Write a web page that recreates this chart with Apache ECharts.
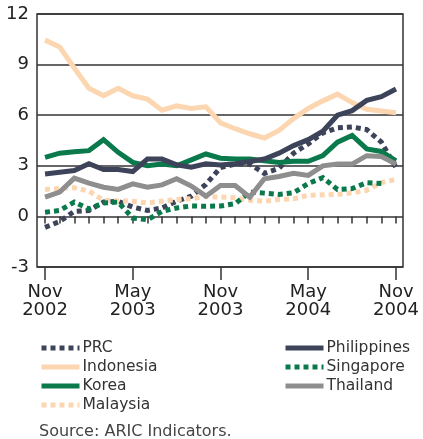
<!DOCTYPE html>
<html>
<head>
<meta charset="utf-8">
<script src="https://cdn.jsdelivr.net/npm/echarts@6/dist/echarts.min.js"></script>
<style>
  html, body { margin: 0; padding: 0; background: #fff; }
  #chart { width: 423px; height: 439px; }
</style>
</head>
<body>
<div id="chart"></div>
<script>
// months from Nov 2002 (0) to Nov 2004 (24)
const monthIdx = [0,1,2,3,4,5,6,7,8,9,10,11,12,13,14,15,16,17,18,19,20,21,22,23,24];
const labelIdx = [0, 6, 12, 18, 24];
const tickLabels = ['Nov\n2002', 'May\n2003', 'Nov\n2003', 'May\n2004', 'Nov\n2004'];

const prc = [-0.65,-0.3,0.3,0.35,0.85,0.9,0.55,0.35,0.5,0.9,1.2,1.9,2.9,3.1,3.1,2.55,2.85,3.75,4.3,4.95,5.25,5.3,5.15,4.4,2.9];
const indonesia = [10.45,10.05,8.8,7.6,7.15,7.6,7.15,6.95,6.3,6.55,6.4,6.5,5.55,5.2,4.9,4.65,5.1,5.8,6.4,6.85,7.25,6.75,6.35,6.25,6.15];
const korea = [3.5,3.75,3.83,3.9,4.55,3.8,3.2,3.0,3.1,3.0,3.35,3.7,3.45,3.4,3.4,3.3,3.2,3.27,3.27,3.6,4.4,4.8,4.0,3.85,3.3];
const malaysia = [1.6,1.65,1.7,1.5,0.95,0.92,0.9,0.8,0.9,1.0,1.05,1.18,1.15,1.1,0.95,0.9,1.0,1.05,1.25,1.28,1.3,1.4,1.55,2.0,2.2];
const philippines = [2.52,2.62,2.72,3.12,2.78,2.78,2.66,3.4,3.4,3.06,2.92,3.12,3.05,3.12,3.25,3.4,3.75,4.2,4.55,5.05,6.0,6.27,6.88,7.1,7.55];
const singapore = [0.25,0.35,0.85,0.45,0.8,0.85,-0.1,-0.2,0.3,0.5,0.62,0.6,0.62,0.75,1.44,1.38,1.3,1.4,1.95,2.3,1.6,1.65,2.0,1.95,null];
const thailand = [1.14,1.44,2.27,1.97,1.73,1.6,1.93,1.73,1.87,2.23,1.8,1.2,1.83,1.83,1.14,2.23,2.37,2.56,2.43,3.0,3.1,3.1,3.6,3.55,3.1];

const navy = '#3d4459';
const peach = '#fcd6b1';
const green = '#0a7a4c';
const grey = '#8e8e8e';
const font = 'DejaVu Sans';

function pairs(arr) {
  return arr.map((v, i) => [monthIdx[i], v]);
}

function mkSeries(name, data, color, dotted) {
  return {
    name: name,
    type: 'line',
    data: pairs(data),
    symbol: 'none',
    connectNulls: false,
    animation: false,
    lineStyle: {
      color: color,
      width: 5,
      type: dotted ? [5, 4] : 'solid',
      cap: 'butt',
      join: 'miter'
    },
    itemStyle: { color: color }
  };
}

const chart = echarts.init(document.getElementById('chart'));

const legendCommon = {
  orient: 'vertical',
  top: 340,
  padding: 0,
  itemWidth: 38,
  itemHeight: 14,
  itemGap: 3,
  itemStyle: { opacity: 0 },
  lineStyle: { width: 5 },
  textStyle: { fontFamily: font, fontSize: 15.5, lineHeight: 14, color: '#333', padding: [0, 0, 0, -2] },
  selectedMode: false
};

const option = {
  animation: false,
  backgroundColor: '#fff',
  grid: {
    left: 37, right: 20, top: 14, bottom: 172,
    show: true, borderColor: '#333', borderWidth: 1.5
  },
  title: {
    text: 'Source: ARIC Indicators.',
    left: 39, top: 424, padding: 0,
    textStyle: { fontFamily: font, fontSize: 16, fontWeight: 'normal', color: '#444' }
  },
  legend: [
    Object.assign({}, legendCommon, { left: 39, data: ['PRC', 'Indonesia', 'Korea', 'Malaysia'] }),
    Object.assign({}, legendCommon, { left: 283, data: ['Philippines', 'Singapore', 'Thailand'] })
  ],
  xAxis: [
    {
      type: 'value', min: -0.55, max: 24.48,
      axisLine: { show: false },
      splitLine: { show: false },
      axisTick: {
        show: true, length: 7, inside: false,
        customValues: monthIdx,
        lineStyle: { color: '#333', width: 1.5 }
      },
      axisLabel: {
        customValues: labelIdx,
        formatter: v => tickLabels[labelIdx.indexOf(v)],
        margin: 16,
        fontFamily: font, fontSize: 18, lineHeight: 18, color: '#222'
      }
    },
    {
      type: 'value', min: -0.55, max: 24.48, position: 'bottom',
      axisLine: { show: false },
      splitLine: { show: false },
      axisTick: {
        show: true, length: 13,
        customValues: labelIdx,
        lineStyle: { color: '#333', width: 1.5 }
      },
      axisLabel: { show: false }
    }
  ],
  yAxis: {
    type: 'value', min: -3, max: 12, interval: 3,
    axisLine: { show: false },
    axisTick: { show: false },
    splitLine: { show: true, lineStyle: { color: '#333', width: 1.5 } },
    axisLabel: { fontFamily: font, fontSize: 18, color: '#222', margin: 8 }
  },
  series: [
    mkSeries('PRC', prc, navy, true),
    mkSeries('Indonesia', indonesia, peach, false),
    mkSeries('Korea', korea, green, false),
    mkSeries('Malaysia', malaysia, peach, true),
    mkSeries('Philippines', philippines, navy, false),
    mkSeries('Singapore', singapore, green, true),
    mkSeries('Thailand', thailand, grey, false)
  ]
};

chart.setOption(option);
</script>
</body>
</html>
